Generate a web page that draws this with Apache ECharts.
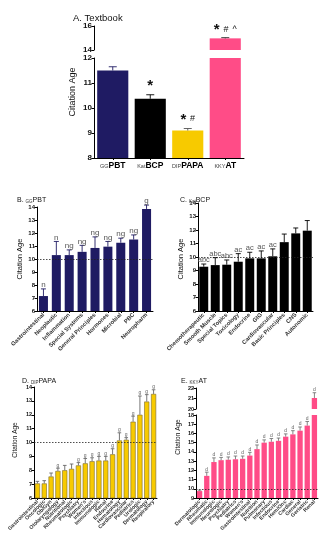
<!DOCTYPE html>
<html><head><meta charset="utf-8">
<script src="https://cdn.jsdelivr.net/npm/echarts@6/dist/echarts.min.js"></script>
<style>html,body{margin:0;padding:0;background:#fff}#c{width:322px;height:550px}</style>
</head><body><div id="c"></div>
<script>
// ---------- DATA ----------
const aSubs = ['GG', 'Kat', 'DIP', 'KKY'];
const aNames = ['PBT', 'BCP', 'PAPA', 'AT'];
const aVals = [11.5, 10.37, 9.1, 14.97];
const aErrs = [0.15, 0.16, 0.08, 0.06];
const aMarks = ['', '*', '* #', '* # ^'];
const aColors = ['#1f1b63', '#000000', '#f7ca00', '#ff4c87'];

const bCats = ['Gastrointestinal', 'Neoplastic', 'Inflammation', 'Special Systems', 'General Principles', 'Hormones', 'Microbial', 'PBC', 'Neuropharm'];
const bVals = [7.15, 10.3, 10.3, 10.55, 10.85, 10.95, 11.25, 11.5, 13.85];
const bErrs = [0.55, 1.05, 0.4, 0.5, 0.85, 0.4, 0.35, 0.35, 0.3];
const bMarks = ['n', 'n', 'ng', 'ng', 'ng', 'ng', 'ng', 'ng', 'g'];

const cCats = ['Chemotherapeutic', 'Smooth Muscle', 'Special Topics', 'Toxicology', 'Endocrine', 'GIG', 'Cardiovascular', 'Basic Principles', 'CNS', 'Autonomic'];
const cVals = [9.28, 9.4, 9.43, 9.65, 9.9, 9.9, 10.05, 11.1, 11.75, 11.95];
const cErrs = [0.2, 0.55, 0.35, 0.6, 0.45, 0.55, 0.55, 0.6, 0.4, 0.75];
const cMarks = ['abc', 'abc', 'abc', 'ac', 'ac', 'ac', 'ac', '', '', ''];

const dCats = ['Gastrointestinal', 'Oncologic', 'Ob/Gyn', 'Otolaryngology', 'Nutritional', 'Rheumatologic', 'Psychiatry', "Women's", 'Infectious', 'Immunologic', 'Renal', 'Endocrine', 'Hematology', 'Cardiovascular', 'Pediatrics', 'Urologic', 'Dermatology', 'Respiratory'];
const dVals = [7.05, 7.05, 7.55, 7.95, 8.0, 8.1, 8.35, 8.5, 8.65, 8.7, 8.7, 9.15, 10.15, 10.2, 11.5, 12.0, 12.95, 13.5];
const dErrs = [0.15, 0.2, 0.25, 0.2, 0.35, 0.35, 0.2, 0.35, 0.25, 0.3, 0.3, 0.4, 0.55, 0.15, 0.4, 1.35, 0.5, 0.3];
const dMarks = ['', '', '', 'g', '', '', 'g', 'g', 'g', 'g', 'g', 'g', 'g', 'g', 'g', 'g', 'g', 'g'];

const eCats = ['Dermatologic', 'Rheumatic', 'Immunologic', 'Neurologic', 'Psychiatry', 'Pediatrics', "Women's", 'Gastrointestinal', 'Nutrition', 'Pulmonary', 'Infectious', 'Endocrine', 'Hem/Onc', 'Cardiac', 'General', 'Geriatric', 'Renal'];
const eVals = [9.75, 11.4, 12.9, 13.1, 13.15, 13.2, 13.25, 13.6, 14.3, 15.0, 15.1, 15.2, 15.65, 15.9, 16.3, 16.85, 21.05];
const eErrs = [0.1, 0.4, 0.45, 0.3, 0.3, 0.35, 0.3, 0.35, 0.45, 0.3, 0.35, 0.3, 0.3, 0.4, 0.4, 0.45, 0.5];
const eMarks = ['', 'd', 'd', 'd', 'd', 'd', 'd', 'd', 'd', 'd', 'd', 'd', 'd', 'd', 'd', 'd', 'd'];

// ---------- BUILD ----------
const FF = 'Liberation Sans, Arial, sans-serif';
const grids = [], xAxes = [], yAxes = [], series = [];

function addPanel(cfg) {
  const idx = grids.length;
  grids.push({left: cfg.left, top: cfg.top, width: cfg.width, height: cfg.height});
  xAxes.push({
    type: 'category', gridIndex: idx, data: cfg.cats,
    axisLine: {show: cfg.showX, lineStyle: {color: '#000', width: 1}},
    axisTick: {show: cfg.showX, alignWithLabel: true, length: 2, lineStyle: {color: '#000'}},
    axisLabel: Object.assign({show: cfg.showX, interval: 0, fontFamily: FF}, cfg.xLabel || {}),
    splitLine: {show: false}
  });
  yAxes.push({
    type: 'value', gridIndex: idx, min: cfg.min, max: cfg.max, interval: cfg.interval,
    axisLine: {show: true, lineStyle: {color: '#000', width: 1}},
    axisTick: {show: true, length: 2.5, lineStyle: {color: '#000'}},
    axisLabel: {fontSize: cfg.yFont, color: '#111', margin: 2, fontFamily: FF, fontWeight: 'bold'},
    splitLine: {show: false}
  });
  const bar = {
    type: 'bar', xAxisIndex: idx, yAxisIndex: idx, clip: true, silent: true,
    barCategoryGap: cfg.gap,
    data: cfg.vals.map((v, i) => ({value: v, itemStyle: {color: Array.isArray(cfg.color) ? cfg.color[i] : cfg.color}})),
    itemStyle: {borderColor: cfg.border || 'transparent', borderWidth: cfg.border ? 0.6 : 0}
  };
  if (cfg.refLine !== undefined) {
    bar.markLine = {silent: true, symbol: 'none', label: {show: false},
      lineStyle: {color: '#222', type: [1.5, 1.5], width: 0.8},
      data: [{yAxis: cfg.refLine}]};
  }
  series.push(bar);
  const lo = cfg.min, hi = cfg.max;
  series.push({
    type: 'custom', xAxisIndex: idx, yAxisIndex: idx, silent: true, clip: false, z: 5,
    data: cfg.vals.map((v, i) => [i, v, cfg.errs[i]]),
    renderItem: function (params, api) {
      const i = api.value(0), v = api.value(1), e = api.value(2);
      if (v < lo || v > hi) return null;
      const p0 = api.coord([i, v]);
      const p1 = api.coord([i, v + e]);
      const ec = Array.isArray(cfg.errColor) ? cfg.errColor[i] : cfg.errColor;
      const kids = [
        {type: 'line', shape: {x1: p0[0], y1: p0[1], x2: p1[0], y2: p1[1]}, style: {stroke: ec, lineWidth: 0.9}},
        {type: 'line', shape: {x1: p0[0] - cfg.cap, y1: p1[1], x2: p0[0] + cfg.cap, y2: p1[1]}, style: {stroke: ec, lineWidth: 0.9}}
      ];
      const m = cfg.marks[i];
      if (m) {
        kids.push({type: 'text', x: p0[0], y: p1[1] - cfg.markGap,
          style: {text: cfg.markFmt ? cfg.markFmt(m) : m, fill: cfg.markColor, fontSize: cfg.markFont,
            fontFamily: FF, align: 'center', verticalAlign: 'bottom', textAlign: 'center', textVerticalAlign: 'bottom',
            rich: cfg.markRich}});
      }
      return {type: 'group', children: kids};
    }
  });
  return idx;
}

const rotLabel = (fs) => ({rotate: 45, fontSize: fs, color: '#333', margin: 3, fontWeight: 'bold'});
const aFmt = (m) => m.split(' ').map(t => t === '*' ? '{st|*}' : '{hs|' + t + '}').join('{sp|  }');
const aRich = {st: {fontSize: 15, fontWeight: 'bold', fill: '#111', color: '#111', fontFamily: FF},
  hs: {fontSize: 9, fill: '#111', color: '#111', fontFamily: FF, padding: [0, 0, 2, 0]},
  sp: {fontSize: 7}};

// Panel A (broken axis)
addPanel({left: 94, top: 26, width: 150, height: 24, cats: aNames, showX: false, min: 14, max: 16, interval: 2, yFont: 8,
  vals: aVals, errs: aErrs, color: aColors, gap: '17%', errColor: '#333', cap: 4, marks: aMarks,
  markColor: '#111', markFont: 9, markGap: 0, markFmt: aFmt, markRich: aRich});
addPanel({left: 94, top: 58, width: 150, height: 100, cats: aNames, showX: true, min: 8, max: 12, interval: 1, yFont: 8,
  vals: aVals, errs: aErrs, color: aColors, gap: '17%', errColor: ['#1f1b63', '#000', '#555', '#333'], cap: 4, marks: aMarks,
  markColor: '#111', markFont: 9, markGap: 1, markFmt: aFmt, markRich: aRich,
  xLabel: {margin: 3, formatter: (v, i) => '{s|' + aSubs[i] + '}{b|' + v + '}',
    rich: {s: {fontSize: 5.5, color: '#444', fontFamily: FF, padding: [2, 0, 0, 0]}, b: {fontSize: 8.5, fontWeight: 'bold', color: '#000', fontFamily: FF}}}});
// Panel B
addPanel({left: 37, top: 207, width: 116, height: 104, cats: bCats, showX: true, min: 6, max: 14, interval: 1, yFont: 6,
  vals: bVals, errs: bErrs, color: '#1f1b63', gap: '30%', errColor: '#1f1b63', cap: 2.5, marks: bMarks,
  markColor: '#555', markFont: 8, markGap: 0, refLine: 10, xLabel: rotLabel(5.8)});
// Panel C
addPanel({left: 198, top: 203, width: 115, height: 108, cats: cCats, showX: true, min: 6, max: 14, interval: 1, yFont: 6,
  vals: cVals, errs: cErrs, color: '#000', gap: '22%', errColor: '#000', cap: 2.5, marks: cMarks,
  markColor: '#555', markFont: 7.5, markGap: 0, refLine: 10, xLabel: rotLabel(5.8)});
// Panel D
addPanel({left: 34, top: 387, width: 123, height: 111, cats: dCats, showX: true, min: 6, max: 14, interval: 1, yFont: 5.5,
  vals: dVals, errs: dErrs, color: '#f7ca00', border: '#7a6a30', gap: '25%', errColor: '#666', cap: 1.8, marks: dMarks,
  markColor: '#666', markFont: 5, markGap: 0.5, refLine: 10, xLabel: rotLabel(5.3)});
// Panel E (broken axis)
addPanel({left: 196, top: 388, width: 122, height: 21, cats: eCats, showX: false, min: 20, max: 22, interval: 1, yFont: 5.5,
  vals: eVals, errs: eErrs, color: '#ff4c87', gap: '26%', errColor: '#777', cap: 1.8, marks: eMarks,
  markColor: '#666', markFont: 5, markGap: 0.5});
addPanel({left: 196, top: 415, width: 122, height: 83, cats: eCats, showX: true, min: 9, max: 18, interval: 1, yFont: 5.5,
  vals: eVals, errs: eErrs, color: '#ff4c87', gap: '26%', errColor: '#777', cap: 1.8, marks: eMarks,
  markColor: '#666', markFont: 5, markGap: 0.5, refLine: 10, xLabel: rotLabel(5.3)});

const subRich = (fs) => ({s: {fontSize: fs, color: '#333', fontFamily: FF, padding: [2, 0, 0, 0]}});
const titles = [
  {text: 'A. Textbook', left: 68, top: 8, textStyle: {fontSize: 9.5, fontWeight: 'normal', color: '#111', fontFamily: FF}},
  {text: 'B. {s|GG}PBT', left: 12, top: 192, textStyle: {fontSize: 7, fontWeight: 'normal', color: '#111', fontFamily: FF, rich: subRich(4.5)}},
  {text: 'C. {s|Kat}BCP', left: 175, top: 192, textStyle: {fontSize: 7, fontWeight: 'normal', color: '#111', fontFamily: FF, rich: subRich(4.5)}},
  {text: 'D. {s|DIP}PAPA', left: 17, top: 373, textStyle: {fontSize: 7, fontWeight: 'normal', color: '#111', fontFamily: FF, rich: subRich(4.5)}},
  {text: 'E. {s|KKY}AT', left: 176, top: 373, textStyle: {fontSize: 7, fontWeight: 'normal', color: '#111', fontFamily: FF, rich: subRich(4.5)}}
];
const yName = (x, y, fs) => ({type: 'text', x: x, y: y, rotation: Math.PI / 2,
  style: {text: 'Citation Age', fontSize: fs, fontFamily: FF, fill: '#111', textAlign: 'center', textVerticalAlign: 'middle', align: 'center', verticalAlign: 'middle'}});

const chart = echarts.init(document.getElementById('c'), null, {renderer: 'canvas'});
chart.setOption({
  animation: false,
  backgroundColor: '#fff',
  title: titles,
  grid: grids, xAxis: xAxes, yAxis: yAxes, series: series,
  graphic: [yName(73, 92, 9), yName(20, 259, 7.5), yName(181, 259, 7.5), yName(15, 440, 6.5), yName(178, 437, 6.5)]
});
</script></body></html>
